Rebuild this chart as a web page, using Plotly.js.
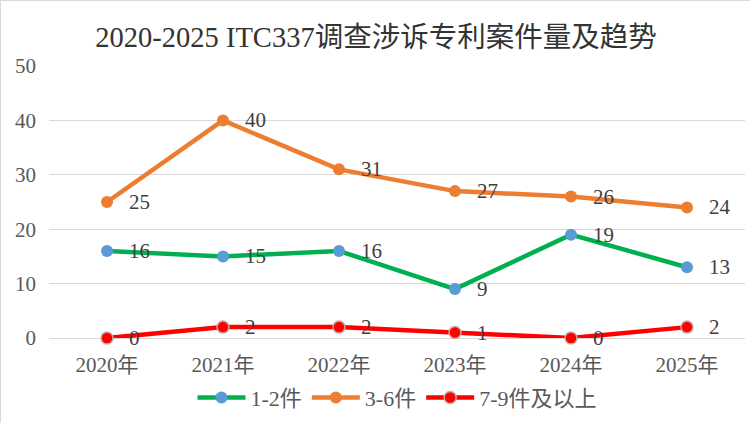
<!DOCTYPE html>
<html><head><meta charset="utf-8">
<script src="https://cdn.plot.ly/plotly-3.0.1.min.js"></script>
<style>
html,body{margin:0;padding:0;background:#fff;}
#chart{width:750px;height:423px;box-sizing:border-box;border:1.5px solid #d9d9d9;}
</style></head>
<body><div id="chart"></div>
<script>
const categories = ["2020年","2021年","2022年","2023年","2024年","2025年"];
const series12 = [16,15,16,9,19,13];
const series36 = [25,40,31,27,26,24];
const series79 = [0,2,2,1,0,2];
const seriesNames = ["1-2件","3-6件","7-9件及以上"];

const FONT = "'Liberation Serif','DejaVu Serif','Noto Sans CJK SC',serif";
const labelFont = {family: FONT, size: 21, color: '#404040'};

function trace(y, name, lineColor, markerColor, outline){
  return {
    x: categories, y: y, name: name, type: 'scatter', mode: 'lines+markers',
    line: {color: lineColor, width: 4.5},
    marker: {color: markerColor, size: 12, line: {color: outline, width: outline==='rgba(0,0,0,0)'?0:1.5}},
    cliponaxis: false
  };
}
const data = [
  trace(series12, seriesNames[0], '#00B050', '#5B9BD5', 'rgba(0,0,0,0)'),
  trace(series36, seriesNames[1], '#ED7D31', '#ED7D31', 'rgba(0,0,0,0)'),
  trace(series79, seriesNames[2], '#FF0000', '#FF0000', '#C9A9A9')
];
const annotations = [];
[series12, series36, series79].forEach(function(s){
  s.forEach(function(v, i){
    annotations.push({x: categories[i], y: v, xref: 'x', yref: 'y', text: String(v), showarrow: false,
      xanchor: 'left', yanchor: 'middle', xshift: 20, yshift: 0, font: labelFont});
  });
});
const layout = {
  width: 750, height: 423,
  margin: {l: 48, r: 6, t: 65, b: 85},
  paper_bgcolor: '#fff', plot_bgcolor: '#fff',
  title: {text: '2020-2025 ITC337调查涉诉专利案件量及趋势', x: 0.5, xanchor: 'center', y: 0.915, yanchor: 'middle',
          font: {family: FONT, size: 28.5, color: '#333333'}},
  xaxis: {type: 'category', range: [-0.5, 5.5], tickfont: {family: FONT, size: 21, color: '#595959'}, showgrid: false,
          showline: false, zeroline: false, ticks: '', ticklabelstandoff: 12},
  yaxis: {range: [0, 50], dtick: 10, tickfont: {family: FONT, size: 21, color: '#595959'},
          gridcolor: '#d9d9d9', gridwidth: 1, zeroline: true, zerolinecolor: '#d9d9d9', zerolinewidth: 1,
          showline: false, ticks: '', ticklabelstandoff: 12},
  annotations: annotations,
  showlegend: true,
  legend: {orientation: 'h', x: 0.5, xanchor: 'center', y: -0.215, yanchor: 'middle', itemwidth: 48,
           font: {family: FONT, size: 22, color: '#595959'}},
  hovermode: false
};
Plotly.newPlot('chart', data, layout, {displayModeBar: false, staticPlot: true});
</script></body></html>
